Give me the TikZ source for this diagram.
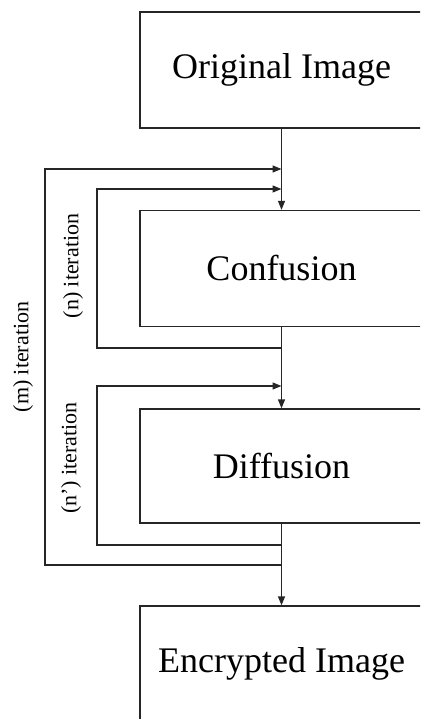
\documentclass[tikz,border=0pt]{standalone}
\usepackage{fontspec}
\setmainfont{Liberation Serif}
\usetikzlibrary{arrows.meta}

\begin{document}
\begin{tikzpicture}[x=1pt,y=-1pt,
  line/.style={draw=black!85, line width=1.3pt},
  flow/.style={line, -{Triangle[length=9pt,width=7pt]}},
  stage/.style={line, rectangle, minimum width=283pt, minimum height=116pt,
    inner sep=0pt, font=\fontsize{36}{40}\selectfont},
  looplabel/.style={rotate=90, inner sep=0pt, font=\fontsize{22}{24}\selectfont}]

  \useasboundingbox (0,0) rectangle (420,719);
  \clip (0,0) rectangle (420,719);

  % processing stages
  \node[stage] (orig) at (281.5,70)  {Original Image};
  \node[stage] (conf) at (281.5,268.5) {Confusion};
  \node[stage, minimum height=114pt] (diff) at (281.5,466) {Diffusion};
  \node[stage] (enc)  at (281.5,664) {Encrypted Image};

  % junction points on the main vertical line
  \coordinate (min)   at (281.5,169);
  \coordinate (nin)   at (281.5,189);
  \coordinate (nout)  at (281.5,348);
  \coordinate (npin)  at (281.5,386);
  \coordinate (npout) at (281.5,545);
  \coordinate (mout)  at (281.5,565);

  % main flow
  \draw[flow] (orig.south) -- (conf.north);
  \draw[flow] (conf.south) -- (diff.north);
  \draw[flow] (diff.south) -- (enc.north);

  % (n) loop around confusion
  \draw[flow] (nout) -- (97,348) -- (97,189) -- (nin);
  % (n') loop around diffusion
  \draw[flow] (npout) -- (97,545) -- (97,386) -- (npin);
  % (m) loop around both stages
  \draw[flow] (mout) -- (45,565) -- (45,169) -- (min);

  % loop labels
  \node[looplabel] (lm)  at (23,357)  {(m) iteration};
  \node[looplabel] (ln)  at (73,266)  {(n) iteration};
  \node[looplabel] (lnp) at (71,458)  {(n') iteration};
\end{tikzpicture}
\end{document}
